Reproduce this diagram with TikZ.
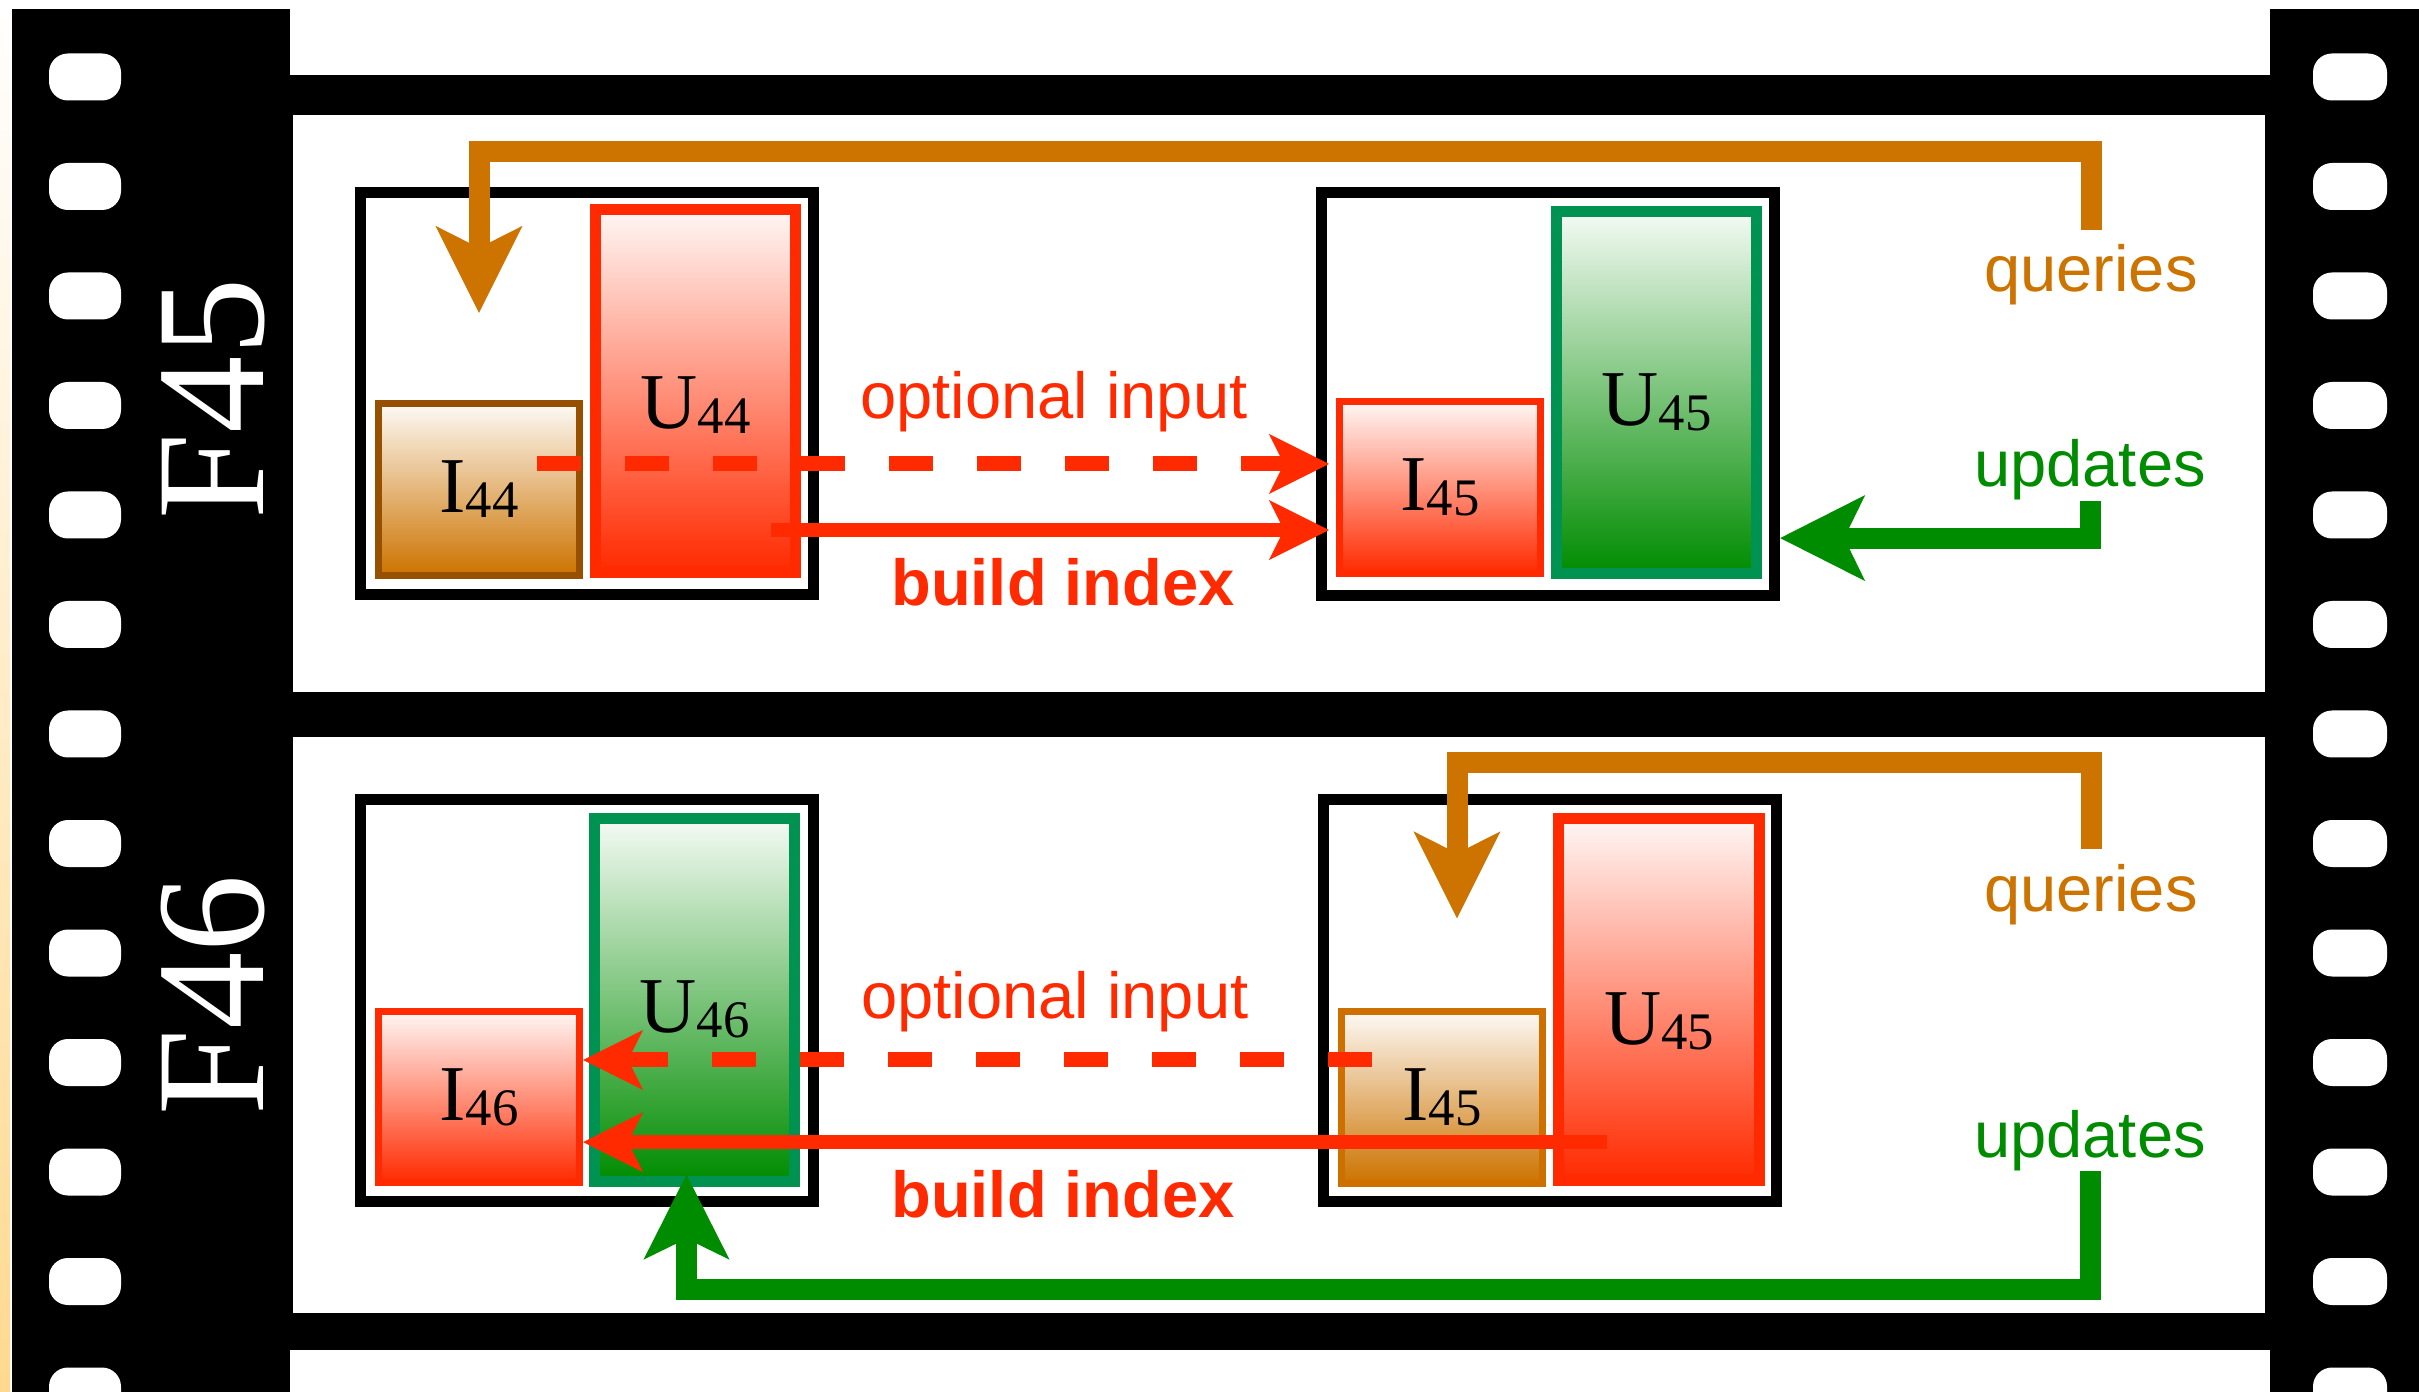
\documentclass[tikz,border=0pt]{standalone}
\usepackage{fontspec}
\setmainfont{Liberation Serif}
\setsansfont{Liberation Sans}
\usetikzlibrary{arrows.meta}

\definecolor{qorange}{HTML}{CC7300}
\definecolor{idxred}{HTML}{FF2A00}
\definecolor{updgreen}{HTML}{008C00}
\definecolor{boxgreen}{HTML}{009250}
\definecolor{boxbrown}{HTML}{965000}
\definecolor{boxorange}{HTML}{CD7000}
\definecolor{edgecream}{HTML}{FFD98F}

% index / update set name with a lowered number
\newcommand{\idx}[2]{#1\raisebox{-1.4pt}{\fontsize{15}{18}\selectfont #2}}

\tikzset{
  hole/.style={fill=white, rounded corners=0.19cm},
  frametag/.style={rotate=90, anchor=base, inner sep=0pt, text=white,
    font=\fontsize{44}{44}\selectfont},
  grp/.style={draw=black, line width=0.11cm, minimum width=4.53cm,
    minimum height=4.02cm, inner sep=0pt},
  ibox/.style={line width=0.07cm, minimum width=2.01cm, minimum height=1.71cm,
    inner sep=0pt, font=\fontsize{22.5}{27}\selectfont},
  ubox/.style={line width=0.11cm, minimum width=2.0cm, minimum height=3.62cm,
    inner sep=0pt},
  utext/.style={inner sep=0pt, font=\fontsize{22.5}{27}\selectfont},
  redbox/.style={draw=idxred, top color=idxred!4, bottom color=idxred},
  greenbox/.style={draw=boxgreen, top color=updgreen!4, bottom color=updgreen},
  brownbox/.style={draw=#1, top color=qorange!4, bottom color=qorange},
  lbl/.style={inner sep=0pt, anchor=base, font=\sffamily\fontsize{18.5}{22}\selectfont},
  bldlbl/.style={lbl, text=idxred, font=\sffamily\bfseries\fontsize{18.5}{22}\selectfont},
  query/.style={draw=qorange, line width=0.21cm, line join=miter,
    -{Stealth[length=0.87cm, width=0.87cm, inset=0.22cm, line width=0pt]}},
  update/.style={draw=updgreen, line width=0.21cm, line join=miter,
    -{Stealth[length=0.85cm, width=0.86cm, inset=0.21cm, line width=0pt]}},
  build/.style={draw=idxred, line width=0.14cm,
    -{Stealth[length=0.6cm, width=0.6cm, inset=0.15cm, line width=0pt]}},
  optin/.style={build, line width=0.15cm, dash pattern=on 0.44cm off 0.44cm},
}

\begin{document}
\begin{tikzpicture}[x=0.01cm, y=-0.01cm]
  \useasboundingbox (0,0) rectangle (2419,1392);
  \fill[white] (0,0) rectangle (2419,1392);
  \shade[top color=white, bottom color=edgecream] (0,0) rectangle (10,1392);

  % film strip
  \fill (12,9) rectangle (290,1392);
  \fill (2270,9) rectangle (2419,1392);
  \fill (290,75) rectangle (2270,1350);
  \fill[white] (293,115) rectangle (2265,692);
  \fill[white] (293,737) rectangle (2265,1313);
  \foreach \k in {0,...,12} {
    \fill[hole] (49,{53.5+109.5*\k}) rectangle (121,{100.5+109.5*\k});
    \fill[hole] (2313,{53.5+109.5*\k}) rectangle (2387,{100.5+109.5*\k});
  }
  \node[frametag] (f45tag) at (263,399) {F45};
  \node[frametag] (f46tag) at (263,995) {F46};

  % frame 45
  \node[grp] (f45a) at (587,393.5) {};
  \node[grp] (f45b) at (1548,394) {};
  \node[ibox, brownbox=boxbrown] (i44) at (479,489.5) {\idx{I}{44}};
  \node[ubox, redbox] (u44) at (695.5,391) {};
  \node[ibox, redbox] (i45t) at (1440,487.5) {\idx{I}{45}};
  \node[ubox, greenbox] (u45t) at (1656.5,392.5) {};
  \node[utext] at ([yshift=-0.14cm]u44.center) {\idx{U}{44}};
  \node[utext] at ([yshift=-0.10cm]u45t.center) {\idx{U}{45}};

  % frame 46
  \node[grp] (f46a) at (587,1000.5) {};
  \node[grp] (f46b) at (1550,1000.5) {};
  \node[ibox, redbox] (i46) at (479,1097) {\idx{I}{46}};
  \node[ubox, greenbox] (u46) at (694.5,1000) {};
  \node[ibox, brownbox=boxorange] (i45b) at (1442,1097.5) {\idx{I}{45}};
  \node[ubox, redbox] (u45b) at (1659,999.5) {};
  \node[utext] at ([yshift=-0.09cm]u46.center) {\idx{U}{46}};
  \node[utext] at ([yshift=-0.22cm]u45b.center) {\idx{U}{45}};

  % labels
  \node[lbl, text=qorange] (q45) at (2091,292) {queries};
  \node[lbl, text=updgreen] (upd45) at (2090,487) {updates};
  \node[lbl, text=qorange] (q46) at (2091,911) {queries};
  \node[lbl, text=updgreen] (upd46) at (2090,1157) {updates};
  \node[lbl, text=idxred] (opt45lbl) at (1054,419) {optional input};
  \node[bldlbl] (bld45lbl) at (1063,606) {build index};
  \node[lbl, text=idxred] (opt46lbl) at (1055,1018) {optional input};
  \node[bldlbl] (bld46lbl) at (1063,1217) {build index};

  % end points
  \coordinate (q45in) at ([yshift=0.875cm]i44.north);
  \coordinate (upd45in) at ([yshift=-1.44cm]f45b.east);
  \coordinate (opt45) at ([xshift=-0.46cm,yshift=0.255cm]i44.east);
  \coordinate (bld45) at ([xshift=-0.30cm,yshift=-1.39cm]u44.east);
  \coordinate (q46in) at ([xshift=0.15cm,yshift=0.9cm]i45b.north);
  \coordinate (upd46in) at ([xshift=-0.08cm,yshift=0.12cm]u46.south);
  \coordinate (opt46) at ([xshift=0.34cm,yshift=0.375cm]i45b.west);
  \coordinate (bld46) at ([xshift=0.54cm,yshift=-1.425cm]u45b.west);

  % frame 45 flows
  \draw[optin] (opt45) -- ([xshift=-0.07cm]opt45 -| i45t.west);
  \draw[build] (bld45) -- ([xshift=-0.07cm]bld45 -| i45t.west);
  \draw[query] ([yshift=0.14cm]q45.north) |- ([yshift=1.61cm]q45in) -- (q45in);
  \draw[update] (upd45.south) |- (upd45in);

  % frame 46 flows
  \draw[optin] (opt46) -- (opt46 -| i46.east);
  \draw[build] (bld46) -- (bld46 -| i46.east);
  \draw[query] ([yshift=0.14cm]q46.north) |- ([yshift=1.56cm]q46in) -- (q46in);
  \draw[update] (upd46.south) |- ([yshift=-1.145cm]upd46in) -- (upd46in);
\end{tikzpicture}
\end{document}
